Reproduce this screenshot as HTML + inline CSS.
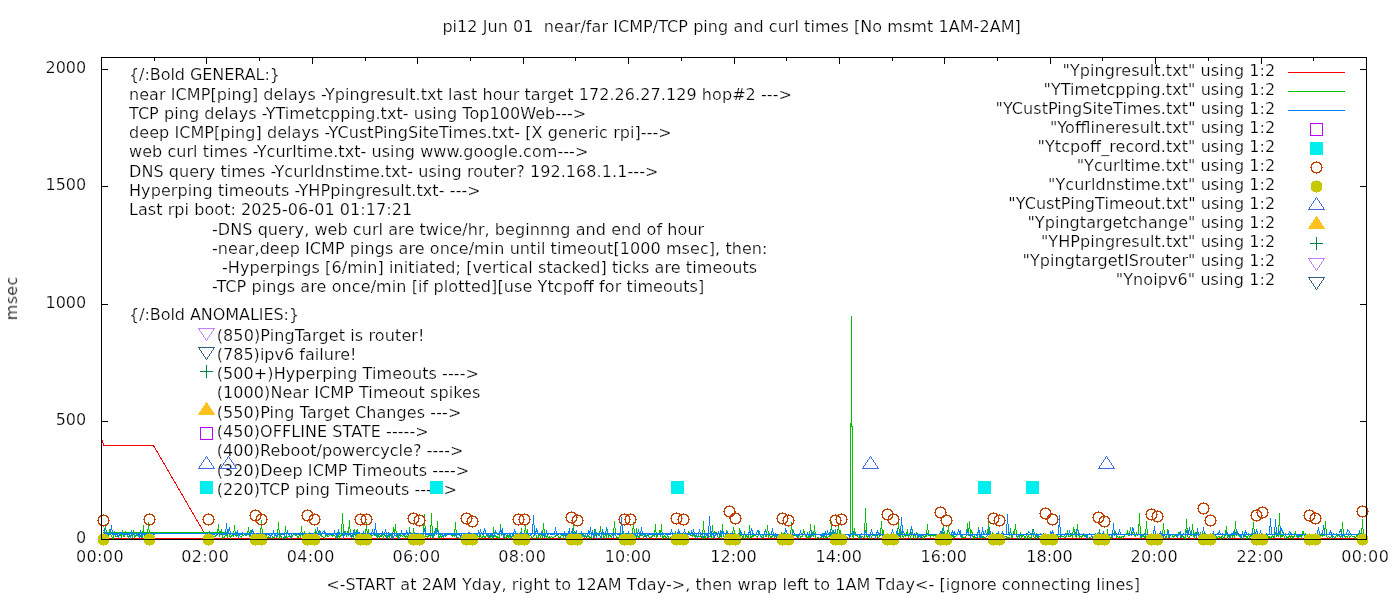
<!DOCTYPE html>
<html lang="en"><head><meta charset="utf-8"><title>pi12 Jun 01 near/far ICMP/TCP ping and curl times</title>
<style>
html,body{margin:0;padding:0;background:#fff;}
body{width:1400px;height:600px;overflow:hidden;}
svg{display:block;}
text{font-family:"DejaVu Sans","Liberation Sans",sans-serif;font-size:16px;fill:#000;stroke:#fff;stroke-width:0.24px;white-space:pre;}
.ce{shape-rendering:crispEdges;}
</style></head><body>
<svg width="1400" height="600" viewBox="0 0 1400 600">
<rect x="0" y="0" width="1400" height="600" fill="#fff"/>
<defs><path id="co" class="ce" d="M-3 -5h7v1h-7zM-4 -4h2v1h-2zM3 -4h2v1h-2zM-5 -3h2v1h-2zM4 -3h2v1h-2zM-5 -2h1v5h-1zM5 -2h1v5h-1zM-5 3h2v1h-2zM4 3h2v1h-2zM-4 4h2v1h-2zM3 4h2v1h-2zM-3 5h7v1h-7zM0 -6h1v1h-1zM0 6h1v1h-1zM-6 0h1v1h-1zM6 0h1v1h-1z"/><path id="cf" class="ce" d="M-3 -5h7v1h-7zM-4 -4h9v1h-9zM-5 -3h11v7h-11zM-4 4h9v1h-9zM-3 5h7v1h-7zM0 -6h1v1h-1zM0 6h1v1h-1z"/></defs>
<g class="ce" stroke="#000" stroke-width="1" fill="none">
<path d="M101.5 58V64M101.5 539V533"/>
<path d="M154.5 58V61M154.5 539V536"/>
<path d="M206.5 58V64M206.5 539V533"/>
<path d="M259.5 58V61M259.5 539V536"/>
<path d="M312.5 58V64M312.5 539V533"/>
<path d="M365.5 58V61M365.5 539V536"/>
<path d="M417.5 58V64M417.5 539V533"/>
<path d="M470.5 58V61M470.5 539V536"/>
<path d="M523.5 58V64M523.5 539V533"/>
<path d="M575.5 58V61M575.5 539V536"/>
<path d="M628.5 58V64M628.5 539V533"/>
<path d="M681.5 58V61M681.5 539V536"/>
<path d="M734.5 58V64M734.5 539V533"/>
<path d="M786.5 58V61M786.5 539V536"/>
<path d="M839.5 58V64M839.5 539V533"/>
<path d="M892.5 58V61M892.5 539V536"/>
<path d="M944.5 58V64M944.5 539V533"/>
<path d="M997.5 58V61M997.5 539V536"/>
<path d="M1050.5 58V64M1050.5 539V533"/>
<path d="M1102.5 58V61M1102.5 539V536"/>
<path d="M1155.5 58V64M1155.5 539V533"/>
<path d="M1208.5 58V61M1208.5 539V536"/>
<path d="M1261.5 58V64M1261.5 539V533"/>
<path d="M1313.5 58V61M1313.5 539V536"/>
<path d="M1366.5 58V64M1366.5 539V533"/>
<path d="M102 539.5H108M1366 539.5H1360"/>
<path d="M102 421.5H108M1366 421.5H1360"/>
<path d="M102 304.5H108M1366 304.5H1360"/>
<path d="M102 186.5H108M1366 186.5H1360"/>
<path d="M102 69.5H108M1366 69.5H1360"/>
</g>
<g style="opacity:0.999">
<text x="731.6" y="32" text-anchor="middle" textLength="578.38" lengthAdjust="spacing" xml:space="preserve">pi12 Jun 01  near/far ICMP/TCP ping and curl times [No msmt 1AM-2AM]</text>
<text x="733.1" y="590" text-anchor="middle" textLength="813.80" lengthAdjust="spacing" xml:space="preserve">&lt;-START at 2AM Yday, right to 12AM Tday-&gt;, then wrap left to 1AM Tday&lt;- [ignore connecting lines]</text>
<text transform="translate(17.1,298.5) rotate(-90)" text-anchor="middle" textLength="43.56" lengthAdjust="spacing" xml:space="preserve">msec</text>
<text x="86.2" y="543" text-anchor="end" xml:space="preserve">0</text>
<text x="86.2" y="425" text-anchor="end" xml:space="preserve">500</text>
<text x="86.2" y="308" text-anchor="end" xml:space="preserve">1000</text>
<text x="86.2" y="190" text-anchor="end" xml:space="preserve">1500</text>
<text x="86.2" y="73" text-anchor="end" xml:space="preserve">2000</text>
<text x="99.75" y="562" text-anchor="middle" textLength="47.71" lengthAdjust="spacing" xml:space="preserve">00:00</text>
<text x="205.0" y="562" text-anchor="middle" textLength="47.71" lengthAdjust="spacing" xml:space="preserve">02:00</text>
<text x="310.5" y="562" text-anchor="middle" textLength="47.71" lengthAdjust="spacing" xml:space="preserve">04:00</text>
<text x="416.25" y="562" text-anchor="middle" textLength="47.71" lengthAdjust="spacing" xml:space="preserve">06:00</text>
<text x="522.0" y="562" text-anchor="middle" textLength="47.71" lengthAdjust="spacing" xml:space="preserve">08:00</text>
<text x="627.9" y="562" text-anchor="middle" textLength="46.51" lengthAdjust="spacing" xml:space="preserve">10:00</text>
<text x="733.5" y="562" text-anchor="middle" textLength="46.51" lengthAdjust="spacing" xml:space="preserve">12:00</text>
<text x="838.75" y="562" text-anchor="middle" textLength="46.51" lengthAdjust="spacing" xml:space="preserve">14:00</text>
<text x="943.75" y="562" text-anchor="middle" textLength="46.51" lengthAdjust="spacing" xml:space="preserve">16:00</text>
<text x="1049.4" y="562" text-anchor="middle" textLength="46.51" lengthAdjust="spacing" xml:space="preserve">18:00</text>
<text x="1154.1" y="562" text-anchor="middle" textLength="47.11" lengthAdjust="spacing" xml:space="preserve">20:00</text>
<text x="1260.0" y="562" text-anchor="middle" textLength="47.11" lengthAdjust="spacing" xml:space="preserve">22:00</text>
<text x="1365.0" y="562" text-anchor="middle" textLength="47.71" lengthAdjust="spacing" xml:space="preserve">00:00</text>
<text x="129" y="80" textLength="150.91" lengthAdjust="spacing" xml:space="preserve">{/:Bold GENERAL:}</text>
<text x="129" y="100" textLength="662.95" lengthAdjust="spacing" xml:space="preserve">near ICMP[ping] delays -Ypingresult.txt last hour target 172.26.27.129 hop#2 ---&gt;</text>
<text x="129" y="119" textLength="457.22" lengthAdjust="spacing" xml:space="preserve">TCP ping delays -YTimetcpping.txt- using Top100Web---&gt;</text>
<text x="129" y="138" textLength="542.78" lengthAdjust="spacing" xml:space="preserve">deep ICMP[ping] delays -YCustPingSiteTimes.txt- [X generic rpi]---&gt;</text>
<text x="129" y="157" textLength="459.36" lengthAdjust="spacing" xml:space="preserve">web curl times -Ycurltime.txt- using www.google.com---&gt;</text>
<text x="129" y="177" textLength="529.39" lengthAdjust="spacing" xml:space="preserve">DNS query times -Ycurldnstime.txt- using router? 192.168.1.1---&gt;</text>
<text x="129" y="196" textLength="351.77" lengthAdjust="spacing" xml:space="preserve">Hyperping timeouts -YHPpingresult.txt- ---&gt;</text>
<text x="129" y="215" textLength="283.09" lengthAdjust="spacing" xml:space="preserve">Last rpi boot: 2025-06-01 01:17:21</text>
<text x="212" y="235" textLength="492.16" lengthAdjust="spacing" xml:space="preserve">-DNS query, web curl are twice/hr, beginnng and end of hour</text>
<text x="212" y="254" textLength="555.44" lengthAdjust="spacing" xml:space="preserve">-near,deep ICMP pings are once/min until timeout[1000 msec], then:</text>
<text x="222" y="273" textLength="535.11" lengthAdjust="spacing" xml:space="preserve">-Hyperpings [6/min] initiated; [vertical stacked] ticks are timeouts</text>
<text x="212" y="292" textLength="492.20" lengthAdjust="spacing" xml:space="preserve">-TCP pings are once/min [if plotted][use Ytcpoff for timeouts]</text>
<text x="129" y="320" textLength="170.14" lengthAdjust="spacing" xml:space="preserve">{/:Bold ANOMALIES:}</text>
<text x="216.7" y="341" textLength="207.78" lengthAdjust="spacing" xml:space="preserve">(850)PingTarget is router!</text>
<text x="216.7" y="360" textLength="139.81" lengthAdjust="spacing" xml:space="preserve">(785)ipv6 failure!</text>
<text x="216.7" y="379" textLength="262.28" lengthAdjust="spacing" xml:space="preserve">(500+)Hyperping Timeouts ----&gt;</text>
<text x="216.7" y="398" textLength="263.67" lengthAdjust="spacing" xml:space="preserve">(1000)Near ICMP Timeout spikes</text>
<text x="216.7" y="418" textLength="244.64" lengthAdjust="spacing" xml:space="preserve">(550)Ping Target Changes ---&gt;</text>
<text x="216.7" y="437" textLength="211.95" lengthAdjust="spacing" xml:space="preserve">(450)OFFLINE STATE -----&gt;</text>
<text x="216.7" y="456" textLength="246.70" lengthAdjust="spacing" xml:space="preserve">(400)Reboot/powercycle? ----&gt;</text>
<text x="216.7" y="476" textLength="252.48" lengthAdjust="spacing" xml:space="preserve">(320)Deep ICMP Timeouts ----&gt;</text>
<text x="216.7" y="495" textLength="240.31" lengthAdjust="spacing" xml:space="preserve">(220)TCP ping Timeouts -----&gt;</text>
<text x="1275.2" y="76" text-anchor="end" textLength="212.61" lengthAdjust="spacing" xml:space="preserve">"Ypingresult.txt" using 1:2</text>
<text x="1275.2" y="95" text-anchor="end" textLength="231.72" lengthAdjust="spacing" xml:space="preserve">"YTimetcpping.txt" using 1:2</text>
<text x="1275.2" y="114" text-anchor="end" textLength="279.73" lengthAdjust="spacing" xml:space="preserve">"YCustPingSiteTimes.txt" using 1:2</text>
<text x="1275.2" y="133" text-anchor="end" textLength="225.26" lengthAdjust="spacing" xml:space="preserve">"Yofflineresult.txt" using 1:2</text>
<text x="1275.2" y="152" text-anchor="end" textLength="237.59" lengthAdjust="spacing" xml:space="preserve">"Ytcpoff_record.txt" using 1:2</text>
<text x="1275.2" y="171" text-anchor="end" textLength="198.54" lengthAdjust="spacing" xml:space="preserve">"Ycurltime.txt" using 1:2</text>
<text x="1275.2" y="190" text-anchor="end" textLength="227.18" lengthAdjust="spacing" xml:space="preserve">"Ycurldnstime.txt" using 1:2</text>
<text x="1275.2" y="209" text-anchor="end" textLength="266.89" lengthAdjust="spacing" xml:space="preserve">"YCustPingTimeout.txt" using 1:2</text>
<text x="1275.2" y="228" text-anchor="end" textLength="247.76" lengthAdjust="spacing" xml:space="preserve">"Ypingtargetchange" using 1:2</text>
<text x="1275.2" y="247" text-anchor="end" textLength="234.28" lengthAdjust="spacing" xml:space="preserve">"YHPpingresult.txt" using 1:2</text>
<text x="1275.2" y="266" text-anchor="end" textLength="252.61" lengthAdjust="spacing" xml:space="preserve">"YpingtargetISrouter" using 1:2</text>
<text x="1275.2" y="285" text-anchor="end" textLength="159.51" lengthAdjust="spacing" xml:space="preserve">"Ynoipv6" using 1:2</text>
</g>
<path class="ce" d="M102.5 440.5L103.5 445.5L153.5 445.5L207.5 538.5" fill="none" stroke="#ff0000" stroke-width="1"/>
<path class="ce" d="M102.5 538.5L1365.5 538.5" fill="none" stroke="#ff0000" stroke-width="1"/>
<path class="ce" d="M102.5 532.5L227.5 532.5" fill="none" stroke="#00c000" stroke-width="1"/>
<path class="ce" d="M103.5 534.5L104.5 536.5L105.5 524.5L106.5 535.5L107.5 538.5L108.5 538.5L109.5 529.5L110.5 534.5L111.5 535.5L112.5 538.5L113.5 538.5L114.5 531.5L115.5 536.5L116.5 536.5L117.5 536.5L118.5 536.5L119.5 534.5L120.5 534.5L121.5 537.5L122.5 530.5L123.5 536.5L124.5 536.5L125.5 532.5L126.5 534.5L127.5 534.5L128.5 538.5L129.5 535.5L130.5 538.5L131.5 534.5L132.5 537.5L133.5 530.5L134.5 537.5L135.5 536.5L136.5 535.5L137.5 535.5L138.5 536.5L139.5 537.5L140.5 535.5L141.5 534.5L142.5 536.5L143.5 525.5L144.5 537.5L145.5 535.5L146.5 533.5L147.5 535.5L148.5 522.5L149.5 536.5L150.5 536.5L151.5 534.5L152.5 537.5L153.5 534.5L154.5 537.5" fill="none" stroke="#00c000" stroke-width="1"/>
<path class="ce" d="M208.5 537.5L209.5 536.5L210.5 534.5L211.5 534.5L212.5 537.5L213.5 537.5L214.5 536.5L215.5 536.5L216.5 534.5L217.5 534.5L218.5 524.5L219.5 536.5L220.5 532.5L221.5 530.5L222.5 537.5L223.5 538.5L224.5 536.5L225.5 535.5L226.5 534.5L227.5 537.5L228.5 531.5L229.5 535.5L230.5 537.5L231.5 535.5L232.5 535.5L233.5 536.5L234.5 525.5L235.5 535.5L236.5 536.5L237.5 534.5L238.5 536.5L239.5 535.5L240.5 536.5L241.5 537.5L242.5 534.5L243.5 535.5L244.5 534.5L245.5 534.5L246.5 535.5L247.5 534.5L248.5 527.5L249.5 536.5L250.5 530.5L251.5 538.5L252.5 537.5L253.5 535.5L254.5 537.5L255.5 535.5L256.5 535.5L257.5 536.5L258.5 538.5L259.5 536.5L260.5 535.5L261.5 520.5L262.5 536.5L263.5 536.5L264.5 534.5L265.5 534.5L266.5 536.5L267.5 537.5L268.5 536.5L269.5 538.5L270.5 536.5L271.5 535.5L272.5 536.5L273.5 538.5L274.5 536.5L275.5 534.5L276.5 536.5L277.5 536.5L278.5 522.5L279.5 537.5L280.5 535.5L281.5 537.5L282.5 538.5L283.5 537.5L284.5 537.5L285.5 526.5L286.5 537.5L287.5 537.5L288.5 536.5L289.5 536.5L290.5 536.5L291.5 537.5L292.5 535.5L293.5 534.5L294.5 534.5L295.5 535.5L296.5 534.5L297.5 537.5L298.5 537.5L299.5 534.5L300.5 537.5L301.5 526.5L302.5 536.5L303.5 537.5L304.5 532.5L305.5 535.5L306.5 534.5L307.5 536.5L308.5 536.5L309.5 533.5L310.5 538.5L311.5 536.5L312.5 537.5L313.5 537.5L314.5 534.5L315.5 529.5L316.5 536.5L317.5 537.5L318.5 536.5L319.5 530.5L320.5 534.5L321.5 536.5L322.5 536.5L323.5 537.5L324.5 538.5L325.5 535.5L326.5 534.5L327.5 536.5L328.5 536.5L329.5 535.5L330.5 534.5L331.5 535.5L332.5 536.5L333.5 534.5L334.5 535.5L335.5 536.5L336.5 538.5L337.5 532.5L338.5 535.5L339.5 537.5L340.5 535.5L341.5 535.5L342.5 513.5L343.5 534.5L344.5 535.5L345.5 531.5L346.5 535.5L347.5 532.5L348.5 534.5L349.5 520.5L350.5 536.5L351.5 536.5L352.5 535.5L353.5 538.5L354.5 529.5L355.5 537.5L356.5 537.5L357.5 529.5L358.5 536.5L359.5 535.5L360.5 537.5L361.5 536.5L362.5 535.5L363.5 538.5L364.5 538.5L365.5 535.5L366.5 522.5L367.5 538.5L368.5 529.5L369.5 536.5L370.5 534.5L371.5 536.5L372.5 535.5L373.5 534.5L374.5 535.5L375.5 535.5L376.5 531.5L377.5 537.5L378.5 535.5L379.5 537.5L380.5 536.5L381.5 536.5L382.5 534.5L383.5 537.5L384.5 534.5L385.5 535.5L386.5 537.5L387.5 536.5L388.5 535.5L389.5 537.5L390.5 534.5L391.5 533.5L392.5 537.5L393.5 527.5L394.5 534.5L395.5 524.5L396.5 536.5L397.5 537.5L398.5 535.5L399.5 538.5L400.5 535.5L401.5 535.5L402.5 536.5L403.5 535.5L404.5 535.5L405.5 537.5L406.5 535.5L407.5 536.5L408.5 538.5L409.5 527.5L410.5 536.5L411.5 537.5L412.5 538.5L413.5 528.5L414.5 535.5L415.5 537.5L416.5 536.5L417.5 536.5L418.5 535.5L419.5 534.5L420.5 534.5L421.5 535.5L422.5 537.5L423.5 534.5L424.5 514.5L425.5 536.5L426.5 536.5L427.5 537.5L428.5 535.5L429.5 534.5L430.5 537.5L431.5 513.5L432.5 538.5L433.5 536.5L434.5 534.5L435.5 531.5L436.5 534.5L437.5 521.5L438.5 538.5L439.5 537.5L440.5 535.5L441.5 537.5L442.5 536.5L443.5 536.5L444.5 534.5L445.5 536.5L446.5 535.5L447.5 534.5L448.5 534.5L449.5 534.5L450.5 534.5L451.5 534.5L452.5 536.5L453.5 535.5L454.5 536.5L455.5 522.5L456.5 536.5L457.5 537.5L458.5 537.5L459.5 538.5L460.5 538.5L461.5 535.5L462.5 538.5L463.5 535.5L464.5 538.5L465.5 537.5L466.5 537.5L467.5 535.5L468.5 537.5L469.5 537.5L470.5 537.5L471.5 534.5L472.5 537.5L473.5 534.5L474.5 536.5L475.5 536.5L476.5 538.5L477.5 535.5L478.5 536.5L479.5 537.5L480.5 535.5L481.5 538.5L482.5 536.5L483.5 535.5L484.5 537.5L485.5 537.5L486.5 534.5L487.5 535.5L488.5 537.5L489.5 537.5L490.5 538.5L491.5 534.5L492.5 538.5L493.5 527.5L494.5 536.5L495.5 535.5L496.5 537.5L497.5 536.5L498.5 538.5L499.5 537.5L500.5 524.5L501.5 534.5L502.5 532.5L503.5 536.5L504.5 536.5L505.5 538.5L506.5 536.5L507.5 534.5L508.5 538.5L509.5 535.5L510.5 536.5L511.5 538.5L512.5 535.5L513.5 535.5L514.5 536.5L515.5 537.5L516.5 536.5L517.5 537.5L518.5 535.5L519.5 534.5L520.5 535.5L521.5 528.5L522.5 538.5L523.5 535.5L524.5 536.5L525.5 524.5L526.5 537.5L527.5 529.5L528.5 536.5L529.5 535.5L530.5 534.5L531.5 537.5L532.5 538.5L533.5 535.5L534.5 535.5L535.5 532.5L536.5 537.5L537.5 538.5L538.5 536.5L539.5 534.5L540.5 537.5L541.5 534.5L542.5 536.5L543.5 523.5L544.5 534.5L545.5 535.5L546.5 537.5L547.5 535.5L548.5 538.5L549.5 536.5L550.5 537.5L551.5 536.5L552.5 537.5L553.5 537.5L554.5 536.5L555.5 536.5L556.5 534.5L557.5 534.5L558.5 537.5L559.5 537.5L560.5 537.5L561.5 534.5L562.5 533.5L563.5 537.5L564.5 534.5L565.5 537.5L566.5 535.5L567.5 535.5L568.5 538.5L569.5 536.5L570.5 536.5L571.5 537.5L572.5 537.5L573.5 523.5L574.5 538.5L575.5 537.5L576.5 535.5L577.5 536.5L578.5 535.5L579.5 535.5L580.5 534.5L581.5 534.5L582.5 536.5L583.5 534.5L584.5 536.5L585.5 534.5L586.5 538.5L587.5 534.5L588.5 535.5L589.5 537.5L590.5 538.5L591.5 536.5L592.5 530.5L593.5 536.5L594.5 537.5L595.5 529.5L596.5 534.5L597.5 534.5L598.5 535.5L599.5 535.5L600.5 526.5L601.5 537.5L602.5 532.5L603.5 537.5L604.5 538.5L605.5 534.5L606.5 536.5L607.5 529.5L608.5 537.5L609.5 534.5L610.5 536.5L611.5 537.5L612.5 534.5L613.5 534.5L614.5 521.5L615.5 534.5L616.5 537.5L617.5 537.5L618.5 538.5L619.5 535.5L620.5 534.5L621.5 535.5L622.5 535.5L623.5 532.5L624.5 537.5L625.5 537.5L626.5 537.5L627.5 535.5L628.5 535.5L629.5 535.5L630.5 537.5L631.5 535.5L632.5 534.5L633.5 522.5L634.5 534.5L635.5 537.5L636.5 528.5L637.5 535.5L638.5 537.5L639.5 537.5L640.5 531.5L641.5 535.5L642.5 534.5L643.5 537.5L644.5 535.5L645.5 535.5L646.5 536.5L647.5 534.5L648.5 536.5L649.5 537.5L650.5 537.5L651.5 537.5L652.5 535.5L653.5 535.5L654.5 536.5L655.5 524.5L656.5 538.5L657.5 535.5L658.5 534.5L659.5 531.5L660.5 536.5L661.5 524.5L662.5 538.5L663.5 536.5L664.5 535.5L665.5 537.5L666.5 538.5L667.5 535.5L668.5 537.5L669.5 538.5L670.5 537.5L671.5 537.5L672.5 534.5L673.5 538.5L674.5 536.5L675.5 531.5L676.5 535.5L677.5 537.5L678.5 532.5L679.5 534.5L680.5 536.5L681.5 533.5L682.5 534.5L683.5 535.5L684.5 537.5L685.5 537.5L686.5 534.5L687.5 537.5L688.5 531.5L689.5 532.5L690.5 535.5L691.5 535.5L692.5 536.5L693.5 534.5L694.5 535.5L695.5 537.5L696.5 536.5L697.5 537.5L698.5 536.5L699.5 536.5L700.5 535.5L701.5 537.5L702.5 538.5L703.5 521.5L704.5 538.5L705.5 537.5L706.5 534.5L707.5 537.5L708.5 537.5L709.5 536.5L710.5 535.5L711.5 538.5L712.5 525.5L713.5 537.5L714.5 531.5L715.5 532.5L716.5 532.5L717.5 536.5L718.5 537.5L719.5 537.5L720.5 535.5L721.5 537.5L722.5 524.5L723.5 536.5L724.5 537.5L725.5 537.5L726.5 530.5L727.5 536.5L728.5 534.5L729.5 535.5L730.5 537.5L731.5 535.5L732.5 534.5L733.5 527.5L734.5 531.5L735.5 537.5L736.5 537.5L737.5 536.5L738.5 537.5L739.5 528.5L740.5 536.5L741.5 535.5L742.5 536.5L743.5 538.5L744.5 531.5L745.5 538.5L746.5 535.5L747.5 537.5L748.5 538.5L749.5 525.5L750.5 537.5L751.5 537.5L752.5 535.5L753.5 536.5L754.5 534.5L755.5 535.5L756.5 536.5L757.5 537.5L758.5 534.5L759.5 532.5L760.5 536.5L761.5 536.5L762.5 537.5L763.5 537.5L764.5 531.5L765.5 536.5L766.5 536.5L767.5 525.5L768.5 536.5L769.5 534.5L770.5 537.5L771.5 537.5L772.5 535.5L773.5 534.5L774.5 537.5L775.5 536.5L776.5 536.5L777.5 535.5L778.5 537.5L779.5 537.5L780.5 536.5L781.5 533.5L782.5 535.5L783.5 536.5L784.5 536.5L785.5 534.5L786.5 538.5L787.5 536.5L788.5 536.5L789.5 537.5L790.5 537.5L791.5 522.5L792.5 534.5L793.5 536.5L794.5 535.5L795.5 535.5L796.5 536.5L797.5 537.5L798.5 538.5L799.5 534.5L800.5 537.5L801.5 536.5L802.5 536.5L803.5 530.5L804.5 532.5L805.5 535.5L806.5 537.5L807.5 538.5L808.5 536.5L809.5 537.5L810.5 524.5L811.5 536.5L812.5 535.5L813.5 536.5L814.5 525.5L815.5 537.5L816.5 538.5L817.5 537.5L818.5 537.5L819.5 538.5L820.5 537.5L821.5 537.5L822.5 536.5L823.5 533.5L824.5 534.5L825.5 538.5L826.5 536.5L827.5 537.5L828.5 536.5L829.5 535.5L830.5 538.5L831.5 521.5L832.5 537.5L833.5 534.5L834.5 536.5L835.5 535.5L836.5 538.5L837.5 534.5L838.5 524.5L839.5 534.5L840.5 531.5L841.5 535.5L842.5 535.5L843.5 535.5L844.5 535.5L845.5 538.5L846.5 536.5L847.5 537.5L848.5 538.5L849.5 537.5L850.5 536.5L851.5 316.5L852.5 535.5L853.5 537.5L854.5 528.5L855.5 535.5L856.5 535.5L857.5 535.5L858.5 538.5L859.5 536.5L860.5 538.5L861.5 536.5L862.5 536.5L863.5 537.5L864.5 537.5L865.5 508.5L866.5 536.5L867.5 537.5L868.5 535.5L869.5 537.5L870.5 534.5L871.5 537.5L872.5 534.5L873.5 535.5L874.5 535.5L875.5 535.5L876.5 534.5L877.5 536.5L878.5 538.5L879.5 535.5L880.5 535.5L881.5 521.5L882.5 535.5L883.5 530.5L884.5 536.5L885.5 535.5L886.5 537.5L887.5 534.5L888.5 537.5L889.5 534.5L890.5 534.5L891.5 534.5L892.5 537.5L893.5 535.5L894.5 534.5L895.5 536.5L896.5 538.5L897.5 535.5L898.5 521.5L899.5 536.5L900.5 537.5L901.5 531.5L902.5 535.5L903.5 537.5L904.5 534.5L905.5 536.5L906.5 535.5L907.5 529.5L908.5 537.5L909.5 534.5L910.5 537.5L911.5 534.5L912.5 529.5L913.5 537.5L914.5 534.5L915.5 537.5L916.5 532.5L917.5 537.5L918.5 537.5L919.5 535.5L920.5 537.5L921.5 536.5L922.5 538.5L923.5 535.5L924.5 537.5L925.5 535.5L926.5 536.5L927.5 524.5L928.5 535.5L929.5 534.5L930.5 536.5L931.5 534.5L932.5 535.5L933.5 536.5L934.5 534.5L935.5 534.5L936.5 536.5L937.5 536.5L938.5 535.5L939.5 538.5L940.5 537.5L941.5 534.5L942.5 535.5L943.5 524.5L944.5 537.5L945.5 537.5L946.5 537.5L947.5 534.5L948.5 525.5L949.5 538.5L950.5 536.5L951.5 535.5L952.5 534.5L953.5 538.5L954.5 536.5L955.5 536.5L956.5 535.5L957.5 534.5L958.5 534.5L959.5 534.5L960.5 535.5L961.5 538.5L962.5 536.5L963.5 537.5L964.5 537.5L965.5 537.5L966.5 534.5L967.5 523.5L968.5 535.5L969.5 521.5L970.5 535.5L971.5 530.5L972.5 534.5L973.5 538.5L974.5 536.5L975.5 538.5L976.5 537.5L977.5 537.5L978.5 527.5L979.5 537.5L980.5 537.5L981.5 538.5L982.5 536.5L983.5 536.5L984.5 538.5L985.5 537.5L986.5 536.5L987.5 535.5L988.5 522.5L989.5 538.5L990.5 534.5L991.5 535.5L992.5 533.5L993.5 537.5L994.5 535.5L995.5 538.5L996.5 538.5L997.5 538.5L998.5 537.5L999.5 535.5L1000.5 534.5L1001.5 536.5L1002.5 536.5L1003.5 535.5L1004.5 536.5L1005.5 536.5L1006.5 536.5L1007.5 538.5L1008.5 538.5L1009.5 536.5L1010.5 528.5L1011.5 537.5L1012.5 537.5L1013.5 531.5L1014.5 534.5L1015.5 524.5L1016.5 535.5L1017.5 537.5L1018.5 535.5L1019.5 536.5L1020.5 533.5L1021.5 537.5L1022.5 535.5L1023.5 534.5L1024.5 537.5L1025.5 538.5L1026.5 534.5L1027.5 537.5L1028.5 535.5L1029.5 538.5L1030.5 538.5L1031.5 536.5L1032.5 529.5L1033.5 535.5L1034.5 538.5L1035.5 536.5L1036.5 534.5L1037.5 538.5L1038.5 536.5L1039.5 536.5L1040.5 536.5L1041.5 537.5L1042.5 538.5L1043.5 534.5L1044.5 536.5L1045.5 537.5L1046.5 534.5L1047.5 534.5L1048.5 536.5L1049.5 534.5L1050.5 534.5L1051.5 538.5L1052.5 536.5L1053.5 534.5L1054.5 535.5L1055.5 535.5L1056.5 535.5L1057.5 535.5L1058.5 537.5L1059.5 536.5L1060.5 536.5L1061.5 536.5L1062.5 536.5L1063.5 536.5L1064.5 537.5L1065.5 537.5L1066.5 535.5L1067.5 530.5L1068.5 536.5L1069.5 536.5L1070.5 536.5L1071.5 534.5L1072.5 536.5L1073.5 528.5L1074.5 530.5L1075.5 536.5L1076.5 537.5L1077.5 524.5L1078.5 534.5L1079.5 537.5L1080.5 536.5L1081.5 537.5L1082.5 535.5L1083.5 534.5L1084.5 536.5L1085.5 535.5L1086.5 534.5L1087.5 537.5L1088.5 538.5L1089.5 537.5L1090.5 537.5L1091.5 536.5L1092.5 537.5L1093.5 536.5L1094.5 537.5L1095.5 534.5L1096.5 536.5L1097.5 536.5L1098.5 534.5L1099.5 529.5L1100.5 536.5L1101.5 537.5L1102.5 536.5L1103.5 534.5L1104.5 536.5L1105.5 537.5L1106.5 538.5L1107.5 529.5L1108.5 538.5L1109.5 537.5L1110.5 537.5L1111.5 538.5L1112.5 531.5L1113.5 534.5L1114.5 534.5L1115.5 531.5L1116.5 537.5L1117.5 536.5L1118.5 537.5L1119.5 536.5L1120.5 538.5L1121.5 536.5L1122.5 536.5L1123.5 537.5L1124.5 535.5L1125.5 534.5L1126.5 534.5L1127.5 531.5L1128.5 535.5L1129.5 535.5L1130.5 527.5L1131.5 533.5L1132.5 534.5L1133.5 530.5L1134.5 535.5L1135.5 536.5L1136.5 533.5L1137.5 535.5L1138.5 534.5L1139.5 513.5L1140.5 538.5L1141.5 537.5L1142.5 536.5L1143.5 535.5L1144.5 537.5L1145.5 537.5L1146.5 521.5L1147.5 535.5L1148.5 537.5L1149.5 537.5L1150.5 537.5L1151.5 537.5L1152.5 537.5L1153.5 535.5L1154.5 535.5L1155.5 538.5L1156.5 537.5L1157.5 536.5L1158.5 536.5L1159.5 534.5L1160.5 536.5L1161.5 535.5L1162.5 537.5L1163.5 523.5L1164.5 535.5L1165.5 536.5L1166.5 538.5L1167.5 529.5L1168.5 537.5L1169.5 534.5L1170.5 534.5L1171.5 534.5L1172.5 535.5L1173.5 537.5L1174.5 535.5L1175.5 535.5L1176.5 536.5L1177.5 537.5L1178.5 532.5L1179.5 532.5L1180.5 537.5L1181.5 536.5L1182.5 536.5L1183.5 536.5L1184.5 538.5L1185.5 538.5L1186.5 519.5L1187.5 536.5L1188.5 537.5L1189.5 537.5L1190.5 534.5L1191.5 535.5L1192.5 524.5L1193.5 534.5L1194.5 538.5L1195.5 532.5L1196.5 537.5L1197.5 532.5L1198.5 535.5L1199.5 535.5L1200.5 532.5L1201.5 538.5L1202.5 535.5L1203.5 536.5L1204.5 537.5L1205.5 534.5L1206.5 536.5L1207.5 536.5L1208.5 534.5L1209.5 534.5L1210.5 534.5L1211.5 536.5L1212.5 537.5L1213.5 535.5L1214.5 535.5L1215.5 534.5L1216.5 538.5L1217.5 537.5L1218.5 536.5L1219.5 536.5L1220.5 538.5L1221.5 537.5L1222.5 535.5L1223.5 538.5L1224.5 536.5L1225.5 534.5L1226.5 526.5L1227.5 537.5L1228.5 535.5L1229.5 534.5L1230.5 536.5L1231.5 534.5L1232.5 536.5L1233.5 534.5L1234.5 537.5L1235.5 521.5L1236.5 535.5L1237.5 534.5L1238.5 535.5L1239.5 535.5L1240.5 537.5L1241.5 537.5L1242.5 531.5L1243.5 537.5L1244.5 535.5L1245.5 534.5L1246.5 538.5L1247.5 538.5L1248.5 534.5L1249.5 537.5L1250.5 535.5L1251.5 535.5L1252.5 534.5L1253.5 522.5L1254.5 534.5L1255.5 534.5L1256.5 536.5L1257.5 532.5L1258.5 535.5L1259.5 535.5L1260.5 535.5L1261.5 537.5L1262.5 537.5L1263.5 535.5L1264.5 537.5L1265.5 534.5L1266.5 534.5L1267.5 534.5L1268.5 537.5L1269.5 536.5L1270.5 538.5L1271.5 536.5L1272.5 535.5L1273.5 537.5L1274.5 537.5L1275.5 532.5L1276.5 536.5L1277.5 535.5L1278.5 536.5L1279.5 513.5L1280.5 537.5L1281.5 535.5L1282.5 536.5L1283.5 534.5L1284.5 537.5L1285.5 534.5L1286.5 537.5L1287.5 538.5L1288.5 536.5L1289.5 535.5L1290.5 537.5L1291.5 535.5L1292.5 536.5L1293.5 538.5L1294.5 534.5L1295.5 532.5L1296.5 535.5L1297.5 537.5L1298.5 536.5L1299.5 536.5L1300.5 535.5L1301.5 538.5L1302.5 531.5L1303.5 531.5L1304.5 536.5L1305.5 534.5L1306.5 536.5L1307.5 537.5L1308.5 537.5L1309.5 537.5L1310.5 536.5L1311.5 536.5L1312.5 537.5L1313.5 535.5L1314.5 536.5L1315.5 536.5L1316.5 535.5L1317.5 537.5L1318.5 536.5L1319.5 534.5L1320.5 536.5L1321.5 534.5L1322.5 536.5L1323.5 535.5L1324.5 535.5L1325.5 521.5L1326.5 536.5L1327.5 537.5L1328.5 536.5L1329.5 537.5L1330.5 538.5L1331.5 535.5L1332.5 535.5L1333.5 536.5L1334.5 537.5L1335.5 538.5L1336.5 534.5L1337.5 536.5L1338.5 535.5L1339.5 535.5L1340.5 537.5L1341.5 536.5L1342.5 522.5L1343.5 535.5L1344.5 535.5L1345.5 537.5L1346.5 536.5L1347.5 537.5L1348.5 534.5L1349.5 537.5L1350.5 536.5L1351.5 535.5L1352.5 536.5L1353.5 536.5L1354.5 536.5L1355.5 538.5L1356.5 535.5L1357.5 534.5L1358.5 537.5L1359.5 532.5L1360.5 535.5L1361.5 537.5L1362.5 519.5L1363.5 537.5L1364.5 538.5L1365.5 535.5" fill="none" stroke="#00c000" stroke-width="1"/>
<path class="ce" d="M102.5 533.5L733.5 533.5L734.5 534.5L1365.5 534.5" fill="none" stroke="#0080ff" stroke-width="1"/>
<path class="ce" d="M103.5 531.5L104.5 529.5L105.5 534.5L106.5 532.5L107.5 534.5L108.5 534.5L109.5 534.5L110.5 533.5L111.5 525.5L112.5 534.5L113.5 534.5L114.5 534.5L115.5 534.5L116.5 534.5L117.5 534.5L118.5 536.5L119.5 534.5L120.5 532.5L121.5 532.5L122.5 534.5L123.5 534.5L124.5 534.5L125.5 534.5L126.5 534.5L127.5 534.5L128.5 534.5L129.5 534.5L130.5 538.5L131.5 531.5L132.5 533.5L133.5 534.5L134.5 534.5L135.5 535.5L136.5 534.5L137.5 534.5L138.5 534.5L139.5 537.5L140.5 530.5L141.5 536.5L142.5 534.5L143.5 534.5L144.5 534.5L145.5 534.5L146.5 533.5L147.5 534.5L148.5 535.5L149.5 534.5L150.5 534.5L151.5 534.5L152.5 534.5L153.5 534.5L154.5 534.5" fill="none" stroke="#0080ff" stroke-width="1"/>
<path class="ce" d="M208.5 536.5L209.5 532.5L210.5 534.5L211.5 534.5L212.5 534.5L213.5 534.5L214.5 534.5L215.5 533.5L216.5 534.5L217.5 534.5L218.5 533.5L219.5 534.5L220.5 533.5L221.5 534.5L222.5 534.5L223.5 534.5L224.5 534.5L225.5 534.5L226.5 523.5L227.5 533.5L228.5 531.5L229.5 527.5L230.5 534.5L231.5 533.5L232.5 534.5L233.5 534.5L234.5 534.5L235.5 534.5L236.5 534.5L237.5 530.5L238.5 537.5L239.5 534.5L240.5 534.5L241.5 534.5L242.5 532.5L243.5 533.5L244.5 534.5L245.5 535.5L246.5 534.5L247.5 533.5L248.5 534.5L249.5 534.5L250.5 535.5L251.5 530.5L252.5 529.5L253.5 533.5L254.5 534.5L255.5 534.5L256.5 534.5L257.5 533.5L258.5 534.5L259.5 534.5L260.5 534.5L261.5 534.5L262.5 534.5L263.5 534.5L264.5 534.5L265.5 534.5L266.5 534.5L267.5 534.5L268.5 534.5L269.5 534.5L270.5 536.5L271.5 534.5L272.5 534.5L273.5 531.5L274.5 534.5L275.5 534.5L276.5 536.5L277.5 534.5L278.5 534.5L279.5 535.5L280.5 535.5L281.5 534.5L282.5 534.5L283.5 534.5L284.5 534.5L285.5 537.5L286.5 534.5L287.5 531.5L288.5 534.5L289.5 534.5L290.5 537.5L291.5 534.5L292.5 533.5L293.5 534.5L294.5 533.5L295.5 534.5L296.5 533.5L297.5 534.5L298.5 534.5L299.5 534.5L300.5 533.5L301.5 534.5L302.5 534.5L303.5 534.5L304.5 535.5L305.5 534.5L306.5 534.5L307.5 534.5L308.5 533.5L309.5 534.5L310.5 534.5L311.5 537.5L312.5 536.5L313.5 534.5L314.5 534.5L315.5 534.5L316.5 534.5L317.5 527.5L318.5 534.5L319.5 534.5L320.5 532.5L321.5 534.5L322.5 532.5L323.5 531.5L324.5 530.5L325.5 534.5L326.5 534.5L327.5 534.5L328.5 534.5L329.5 534.5L330.5 534.5L331.5 534.5L332.5 534.5L333.5 534.5L334.5 531.5L335.5 534.5L336.5 533.5L337.5 537.5L338.5 529.5L339.5 534.5L340.5 533.5L341.5 533.5L342.5 534.5L343.5 537.5L344.5 532.5L345.5 534.5L346.5 534.5L347.5 534.5L348.5 535.5L349.5 533.5L350.5 532.5L351.5 537.5L352.5 536.5L353.5 531.5L354.5 534.5L355.5 534.5L356.5 530.5L357.5 534.5L358.5 532.5L359.5 532.5L360.5 534.5L361.5 534.5L362.5 534.5L363.5 532.5L364.5 534.5L365.5 534.5L366.5 534.5L367.5 534.5L368.5 534.5L369.5 534.5L370.5 534.5L371.5 534.5L372.5 529.5L373.5 534.5L374.5 534.5L375.5 523.5L376.5 536.5L377.5 533.5L378.5 533.5L379.5 534.5L380.5 535.5L381.5 534.5L382.5 532.5L383.5 534.5L384.5 534.5L385.5 529.5L386.5 534.5L387.5 537.5L388.5 533.5L389.5 535.5L390.5 534.5L391.5 537.5L392.5 534.5L393.5 537.5L394.5 534.5L395.5 535.5L396.5 534.5L397.5 534.5L398.5 537.5L399.5 534.5L400.5 534.5L401.5 531.5L402.5 534.5L403.5 534.5L404.5 534.5L405.5 534.5L406.5 531.5L407.5 533.5L408.5 535.5L409.5 530.5L410.5 536.5L411.5 537.5L412.5 534.5L413.5 535.5L414.5 536.5L415.5 534.5L416.5 534.5L417.5 536.5L418.5 534.5L419.5 534.5L420.5 534.5L421.5 533.5L422.5 534.5L423.5 535.5L424.5 529.5L425.5 531.5L426.5 534.5L427.5 534.5L428.5 534.5L429.5 534.5L430.5 534.5L431.5 534.5L432.5 536.5L433.5 534.5L434.5 534.5L435.5 528.5L436.5 533.5L437.5 529.5L438.5 533.5L439.5 534.5L440.5 535.5L441.5 534.5L442.5 534.5L443.5 536.5L444.5 534.5L445.5 534.5L446.5 534.5L447.5 534.5L448.5 534.5L449.5 534.5L450.5 534.5L451.5 534.5L452.5 534.5L453.5 534.5L454.5 534.5L455.5 534.5L456.5 536.5L457.5 533.5L458.5 534.5L459.5 534.5L460.5 536.5L461.5 534.5L462.5 537.5L463.5 534.5L464.5 534.5L465.5 534.5L466.5 534.5L467.5 534.5L468.5 532.5L469.5 532.5L470.5 534.5L471.5 535.5L472.5 536.5L473.5 534.5L474.5 534.5L475.5 534.5L476.5 534.5L477.5 534.5L478.5 531.5L479.5 534.5L480.5 530.5L481.5 533.5L482.5 534.5L483.5 534.5L484.5 528.5L485.5 532.5L486.5 534.5L487.5 534.5L488.5 534.5L489.5 536.5L490.5 534.5L491.5 534.5L492.5 534.5L493.5 536.5L494.5 534.5L495.5 531.5L496.5 533.5L497.5 534.5L498.5 534.5L499.5 533.5L500.5 528.5L501.5 534.5L502.5 528.5L503.5 536.5L504.5 534.5L505.5 534.5L506.5 533.5L507.5 534.5L508.5 535.5L509.5 534.5L510.5 534.5L511.5 537.5L512.5 534.5L513.5 534.5L514.5 529.5L515.5 533.5L516.5 533.5L517.5 534.5L518.5 534.5L519.5 534.5L520.5 532.5L521.5 533.5L522.5 534.5L523.5 534.5L524.5 534.5L525.5 534.5L526.5 534.5L527.5 534.5L528.5 534.5L529.5 537.5L530.5 534.5L531.5 534.5L532.5 533.5L533.5 515.5L534.5 534.5L535.5 534.5L536.5 529.5L537.5 531.5L538.5 534.5L539.5 534.5L540.5 534.5L541.5 532.5L542.5 534.5L543.5 534.5L544.5 536.5L545.5 534.5L546.5 531.5L547.5 534.5L548.5 534.5L549.5 533.5L550.5 534.5L551.5 534.5L552.5 534.5L553.5 534.5L554.5 534.5L555.5 527.5L556.5 534.5L557.5 534.5L558.5 534.5L559.5 533.5L560.5 534.5L561.5 534.5L562.5 534.5L563.5 534.5L564.5 532.5L565.5 536.5L566.5 534.5L567.5 534.5L568.5 533.5L569.5 528.5L570.5 536.5L571.5 534.5L572.5 528.5L573.5 534.5L574.5 534.5L575.5 534.5L576.5 530.5L577.5 536.5L578.5 534.5L579.5 534.5L580.5 534.5L581.5 532.5L582.5 534.5L583.5 536.5L584.5 535.5L585.5 536.5L586.5 537.5L587.5 534.5L588.5 531.5L589.5 534.5L590.5 527.5L591.5 535.5L592.5 532.5L593.5 537.5L594.5 529.5L595.5 534.5L596.5 537.5L597.5 533.5L598.5 534.5L599.5 534.5L600.5 537.5L601.5 534.5L602.5 529.5L603.5 534.5L604.5 534.5L605.5 534.5L606.5 527.5L607.5 534.5L608.5 534.5L609.5 534.5L610.5 533.5L611.5 534.5L612.5 534.5L613.5 536.5L614.5 533.5L615.5 534.5L616.5 533.5L617.5 534.5L618.5 534.5L619.5 534.5L620.5 534.5L621.5 517.5L622.5 532.5L623.5 538.5L624.5 534.5L625.5 534.5L626.5 534.5L627.5 536.5L628.5 532.5L629.5 534.5L630.5 534.5L631.5 534.5L632.5 534.5L633.5 534.5L634.5 534.5L635.5 534.5L636.5 536.5L637.5 534.5L638.5 529.5L639.5 534.5L640.5 535.5L641.5 527.5L642.5 534.5L643.5 534.5L644.5 533.5L645.5 535.5L646.5 537.5L647.5 534.5L648.5 534.5L649.5 534.5L650.5 534.5L651.5 534.5L652.5 534.5L653.5 534.5L654.5 534.5L655.5 534.5L656.5 534.5L657.5 534.5L658.5 534.5L659.5 534.5L660.5 535.5L661.5 534.5L662.5 534.5L663.5 534.5L664.5 533.5L665.5 534.5L666.5 534.5L667.5 534.5L668.5 534.5L669.5 534.5L670.5 534.5L671.5 529.5L672.5 534.5L673.5 534.5L674.5 533.5L675.5 534.5L676.5 536.5L677.5 534.5L678.5 530.5L679.5 532.5L680.5 534.5L681.5 534.5L682.5 534.5L683.5 534.5L684.5 529.5L685.5 534.5L686.5 533.5L687.5 534.5L688.5 534.5L689.5 534.5L690.5 534.5L691.5 531.5L692.5 534.5L693.5 529.5L694.5 534.5L695.5 535.5L696.5 534.5L697.5 537.5L698.5 534.5L699.5 529.5L700.5 534.5L701.5 533.5L702.5 536.5L703.5 537.5L704.5 534.5L705.5 534.5L706.5 535.5L707.5 534.5L708.5 536.5L709.5 516.5L710.5 534.5L711.5 532.5L712.5 534.5L713.5 533.5L714.5 537.5L715.5 534.5L716.5 534.5L717.5 534.5L718.5 532.5L719.5 534.5L720.5 531.5L721.5 534.5L722.5 530.5L723.5 534.5L724.5 533.5L725.5 534.5L726.5 534.5L727.5 532.5L728.5 534.5L729.5 534.5L730.5 535.5L731.5 534.5L732.5 534.5L733.5 534.5L734.5 534.5L735.5 534.5L736.5 537.5L737.5 534.5L738.5 534.5L739.5 534.5L740.5 530.5L741.5 534.5L742.5 534.5L743.5 534.5L744.5 534.5L745.5 534.5L746.5 534.5L747.5 534.5L748.5 534.5L749.5 530.5L750.5 534.5L751.5 528.5L752.5 532.5L753.5 534.5L754.5 534.5L755.5 534.5L756.5 534.5L757.5 530.5L758.5 530.5L759.5 534.5L760.5 534.5L761.5 537.5L762.5 534.5L763.5 534.5L764.5 534.5L765.5 529.5L766.5 534.5L767.5 534.5L768.5 534.5L769.5 534.5L770.5 534.5L771.5 533.5L772.5 528.5L773.5 535.5L774.5 536.5L775.5 534.5L776.5 536.5L777.5 534.5L778.5 534.5L779.5 537.5L780.5 534.5L781.5 534.5L782.5 534.5L783.5 533.5L784.5 536.5L785.5 528.5L786.5 531.5L787.5 534.5L788.5 534.5L789.5 535.5L790.5 533.5L791.5 534.5L792.5 534.5L793.5 531.5L794.5 534.5L795.5 534.5L796.5 534.5L797.5 536.5L798.5 534.5L799.5 534.5L800.5 531.5L801.5 534.5L802.5 534.5L803.5 534.5L804.5 533.5L805.5 534.5L806.5 535.5L807.5 533.5L808.5 535.5L809.5 534.5L810.5 537.5L811.5 530.5L812.5 534.5L813.5 534.5L814.5 533.5L815.5 534.5L816.5 534.5L817.5 534.5L818.5 534.5L819.5 534.5L820.5 535.5L821.5 536.5L822.5 534.5L823.5 536.5L824.5 534.5L825.5 532.5L826.5 534.5L827.5 531.5L828.5 534.5L829.5 534.5L830.5 530.5L831.5 533.5L832.5 534.5L833.5 531.5L834.5 534.5L835.5 529.5L836.5 536.5L837.5 537.5L838.5 536.5L839.5 538.5L840.5 534.5L841.5 534.5L842.5 534.5L843.5 534.5L844.5 534.5L845.5 534.5L846.5 534.5L847.5 534.5L848.5 534.5L849.5 536.5L850.5 534.5L851.5 534.5L852.5 532.5L853.5 531.5L854.5 534.5L855.5 534.5L856.5 534.5L857.5 534.5L858.5 534.5L859.5 534.5L860.5 537.5L861.5 533.5L862.5 534.5L863.5 534.5L864.5 534.5L865.5 530.5L866.5 534.5L867.5 534.5L868.5 534.5L869.5 536.5L870.5 534.5L871.5 529.5L872.5 534.5L873.5 534.5L874.5 534.5L875.5 537.5L876.5 534.5L877.5 530.5L878.5 534.5L879.5 533.5L880.5 534.5L881.5 534.5L882.5 534.5L883.5 536.5L884.5 534.5L885.5 534.5L886.5 534.5L887.5 534.5L888.5 534.5L889.5 534.5L890.5 534.5L891.5 534.5L892.5 529.5L893.5 534.5L894.5 534.5L895.5 534.5L896.5 533.5L897.5 529.5L898.5 536.5L899.5 534.5L900.5 534.5L901.5 517.5L902.5 532.5L903.5 531.5L904.5 534.5L905.5 534.5L906.5 534.5L907.5 535.5L908.5 534.5L909.5 534.5L910.5 532.5L911.5 526.5L912.5 533.5L913.5 534.5L914.5 534.5L915.5 535.5L916.5 534.5L917.5 533.5L918.5 537.5L919.5 534.5L920.5 534.5L921.5 536.5L922.5 534.5L923.5 534.5L924.5 534.5L925.5 534.5L926.5 534.5L927.5 533.5L928.5 534.5L929.5 534.5L930.5 534.5L931.5 534.5L932.5 534.5L933.5 534.5L934.5 534.5L935.5 534.5L936.5 534.5L937.5 534.5L938.5 534.5L939.5 534.5L940.5 532.5L941.5 534.5L942.5 528.5L943.5 534.5L944.5 534.5L945.5 534.5L946.5 534.5L947.5 534.5L948.5 534.5L949.5 536.5L950.5 534.5L951.5 534.5L952.5 530.5L953.5 534.5L954.5 532.5L955.5 534.5L956.5 534.5L957.5 534.5L958.5 529.5L959.5 533.5L960.5 530.5L961.5 537.5L962.5 534.5L963.5 534.5L964.5 534.5L965.5 534.5L966.5 533.5L967.5 530.5L968.5 534.5L969.5 534.5L970.5 537.5L971.5 534.5L972.5 535.5L973.5 534.5L974.5 534.5L975.5 534.5L976.5 534.5L977.5 537.5L978.5 528.5L979.5 532.5L980.5 537.5L981.5 537.5L982.5 527.5L983.5 534.5L984.5 534.5L985.5 531.5L986.5 534.5L987.5 535.5L988.5 534.5L989.5 527.5L990.5 534.5L991.5 534.5L992.5 534.5L993.5 534.5L994.5 534.5L995.5 534.5L996.5 533.5L997.5 534.5L998.5 532.5L999.5 534.5L1000.5 534.5L1001.5 534.5L1002.5 532.5L1003.5 534.5L1004.5 534.5L1005.5 534.5L1006.5 534.5L1007.5 514.5L1008.5 532.5L1009.5 534.5L1010.5 534.5L1011.5 534.5L1012.5 534.5L1013.5 534.5L1014.5 534.5L1015.5 534.5L1016.5 535.5L1017.5 534.5L1018.5 534.5L1019.5 537.5L1020.5 534.5L1021.5 534.5L1022.5 534.5L1023.5 534.5L1024.5 534.5L1025.5 534.5L1026.5 534.5L1027.5 534.5L1028.5 531.5L1029.5 532.5L1030.5 533.5L1031.5 534.5L1032.5 534.5L1033.5 529.5L1034.5 534.5L1035.5 534.5L1036.5 534.5L1037.5 536.5L1038.5 534.5L1039.5 534.5L1040.5 533.5L1041.5 534.5L1042.5 534.5L1043.5 534.5L1044.5 534.5L1045.5 533.5L1046.5 534.5L1047.5 535.5L1048.5 534.5L1049.5 538.5L1050.5 531.5L1051.5 534.5L1052.5 530.5L1053.5 534.5L1054.5 534.5L1055.5 534.5L1056.5 534.5L1057.5 534.5L1058.5 534.5L1059.5 515.5L1060.5 537.5L1061.5 534.5L1062.5 534.5L1063.5 534.5L1064.5 535.5L1065.5 533.5L1066.5 534.5L1067.5 533.5L1068.5 534.5L1069.5 531.5L1070.5 534.5L1071.5 534.5L1072.5 534.5L1073.5 534.5L1074.5 534.5L1075.5 534.5L1076.5 529.5L1077.5 530.5L1078.5 531.5L1079.5 535.5L1080.5 534.5L1081.5 534.5L1082.5 534.5L1083.5 533.5L1084.5 534.5L1085.5 534.5L1086.5 538.5L1087.5 534.5L1088.5 534.5L1089.5 533.5L1090.5 534.5L1091.5 534.5L1092.5 538.5L1093.5 536.5L1094.5 536.5L1095.5 537.5L1096.5 534.5L1097.5 533.5L1098.5 535.5L1099.5 532.5L1100.5 534.5L1101.5 536.5L1102.5 534.5L1103.5 532.5L1104.5 534.5L1105.5 534.5L1106.5 534.5L1107.5 534.5L1108.5 536.5L1109.5 534.5L1110.5 534.5L1111.5 534.5L1112.5 536.5L1113.5 523.5L1114.5 535.5L1115.5 534.5L1116.5 533.5L1117.5 534.5L1118.5 534.5L1119.5 529.5L1120.5 534.5L1121.5 534.5L1122.5 534.5L1123.5 534.5L1124.5 534.5L1125.5 534.5L1126.5 534.5L1127.5 534.5L1128.5 534.5L1129.5 533.5L1130.5 534.5L1131.5 535.5L1132.5 527.5L1133.5 528.5L1134.5 534.5L1135.5 534.5L1136.5 534.5L1137.5 534.5L1138.5 534.5L1139.5 534.5L1140.5 534.5L1141.5 536.5L1142.5 534.5L1143.5 534.5L1144.5 533.5L1145.5 534.5L1146.5 534.5L1147.5 534.5L1148.5 534.5L1149.5 537.5L1150.5 534.5L1151.5 534.5L1152.5 534.5L1153.5 534.5L1154.5 526.5L1155.5 534.5L1156.5 534.5L1157.5 535.5L1158.5 535.5L1159.5 534.5L1160.5 532.5L1161.5 534.5L1162.5 534.5L1163.5 536.5L1164.5 534.5L1165.5 534.5L1166.5 534.5L1167.5 534.5L1168.5 530.5L1169.5 536.5L1170.5 534.5L1171.5 534.5L1172.5 534.5L1173.5 534.5L1174.5 534.5L1175.5 534.5L1176.5 534.5L1177.5 536.5L1178.5 534.5L1179.5 534.5L1180.5 531.5L1181.5 537.5L1182.5 534.5L1183.5 533.5L1184.5 534.5L1185.5 534.5L1186.5 531.5L1187.5 533.5L1188.5 533.5L1189.5 527.5L1190.5 534.5L1191.5 534.5L1192.5 534.5L1193.5 534.5L1194.5 533.5L1195.5 534.5L1196.5 536.5L1197.5 528.5L1198.5 534.5L1199.5 536.5L1200.5 534.5L1201.5 534.5L1202.5 534.5L1203.5 527.5L1204.5 534.5L1205.5 537.5L1206.5 534.5L1207.5 534.5L1208.5 534.5L1209.5 534.5L1210.5 534.5L1211.5 534.5L1212.5 534.5L1213.5 532.5L1214.5 536.5L1215.5 534.5L1216.5 534.5L1217.5 533.5L1218.5 533.5L1219.5 531.5L1220.5 534.5L1221.5 534.5L1222.5 533.5L1223.5 534.5L1224.5 534.5L1225.5 534.5L1226.5 532.5L1227.5 534.5L1228.5 534.5L1229.5 537.5L1230.5 534.5L1231.5 533.5L1232.5 534.5L1233.5 532.5L1234.5 534.5L1235.5 534.5L1236.5 529.5L1237.5 533.5L1238.5 533.5L1239.5 534.5L1240.5 534.5L1241.5 537.5L1242.5 532.5L1243.5 536.5L1244.5 534.5L1245.5 530.5L1246.5 534.5L1247.5 534.5L1248.5 534.5L1249.5 534.5L1250.5 534.5L1251.5 534.5L1252.5 531.5L1253.5 534.5L1254.5 533.5L1255.5 534.5L1256.5 529.5L1257.5 533.5L1258.5 534.5L1259.5 534.5L1260.5 531.5L1261.5 534.5L1262.5 534.5L1263.5 534.5L1264.5 534.5L1265.5 534.5L1266.5 533.5L1267.5 534.5L1268.5 534.5L1269.5 534.5L1270.5 518.5L1271.5 534.5L1272.5 534.5L1273.5 534.5L1274.5 534.5L1275.5 519.5L1276.5 533.5L1277.5 534.5L1278.5 531.5L1279.5 534.5L1280.5 527.5L1281.5 529.5L1282.5 531.5L1283.5 533.5L1284.5 534.5L1285.5 534.5L1286.5 534.5L1287.5 534.5L1288.5 534.5L1289.5 531.5L1290.5 532.5L1291.5 534.5L1292.5 534.5L1293.5 534.5L1294.5 534.5L1295.5 534.5L1296.5 534.5L1297.5 534.5L1298.5 536.5L1299.5 534.5L1300.5 534.5L1301.5 534.5L1302.5 535.5L1303.5 534.5L1304.5 534.5L1305.5 534.5L1306.5 536.5L1307.5 534.5L1308.5 534.5L1309.5 533.5L1310.5 534.5L1311.5 534.5L1312.5 537.5L1313.5 536.5L1314.5 534.5L1315.5 534.5L1316.5 535.5L1317.5 532.5L1318.5 527.5L1319.5 534.5L1320.5 534.5L1321.5 534.5L1322.5 534.5L1323.5 525.5L1324.5 533.5L1325.5 534.5L1326.5 534.5L1327.5 534.5L1328.5 534.5L1329.5 534.5L1330.5 530.5L1331.5 534.5L1332.5 536.5L1333.5 533.5L1334.5 534.5L1335.5 534.5L1336.5 534.5L1337.5 534.5L1338.5 535.5L1339.5 533.5L1340.5 529.5L1341.5 534.5L1342.5 536.5L1343.5 534.5L1344.5 534.5L1345.5 534.5L1346.5 534.5L1347.5 529.5L1348.5 530.5L1349.5 531.5L1350.5 534.5L1351.5 534.5L1352.5 534.5L1353.5 534.5L1354.5 534.5L1355.5 534.5L1356.5 534.5L1357.5 534.5L1358.5 534.5L1359.5 531.5L1360.5 534.5L1361.5 534.5L1362.5 534.5L1363.5 534.5L1364.5 534.5L1365.5 535.5" fill="none" stroke="#0080ff" stroke-width="1"/>
<rect class="ce" x="200.5" y="427.5" width="12" height="12" fill="none" stroke="#c000ff" stroke-width="1"/>
<rect class="ce" x="200.0" y="481.0" width="13" height="13" fill="#00eeee"/>
<rect class="ce" x="430.0" y="481.0" width="13" height="13" fill="#00eeee"/>
<rect class="ce" x="671.0" y="481.0" width="13" height="13" fill="#00eeee"/>
<rect class="ce" x="978.0" y="481.0" width="13" height="13" fill="#00eeee"/>
<rect class="ce" x="1026.0" y="481.0" width="13" height="13" fill="#00eeee"/>
<use href="#co" x="103" y="520" fill="#c04000"/>
<use href="#co" x="149" y="519" fill="#c04000"/>
<use href="#co" x="208" y="519" fill="#c04000"/>
<use href="#co" x="255" y="515" fill="#c04000"/>
<use href="#co" x="261" y="519" fill="#c04000"/>
<use href="#co" x="307" y="515" fill="#c04000"/>
<use href="#co" x="314" y="519" fill="#c04000"/>
<use href="#co" x="360" y="519" fill="#c04000"/>
<use href="#co" x="366" y="519" fill="#c04000"/>
<use href="#co" x="413" y="518" fill="#c04000"/>
<use href="#co" x="419" y="520" fill="#c04000"/>
<use href="#co" x="466" y="518" fill="#c04000"/>
<use href="#co" x="472" y="521" fill="#c04000"/>
<use href="#co" x="518" y="519" fill="#c04000"/>
<use href="#co" x="524" y="519" fill="#c04000"/>
<use href="#co" x="571" y="517" fill="#c04000"/>
<use href="#co" x="577" y="520" fill="#c04000"/>
<use href="#co" x="624" y="519" fill="#c04000"/>
<use href="#co" x="630" y="519" fill="#c04000"/>
<use href="#co" x="676" y="518" fill="#c04000"/>
<use href="#co" x="683" y="519" fill="#c04000"/>
<use href="#co" x="729" y="511" fill="#c04000"/>
<use href="#co" x="735" y="518" fill="#c04000"/>
<use href="#co" x="782" y="518" fill="#c04000"/>
<use href="#co" x="788" y="520" fill="#c04000"/>
<use href="#co" x="835" y="520" fill="#c04000"/>
<use href="#co" x="841" y="519" fill="#c04000"/>
<use href="#co" x="887" y="514" fill="#c04000"/>
<use href="#co" x="893" y="519" fill="#c04000"/>
<use href="#co" x="940" y="512" fill="#c04000"/>
<use href="#co" x="946" y="520" fill="#c04000"/>
<use href="#co" x="993" y="518" fill="#c04000"/>
<use href="#co" x="999" y="520" fill="#c04000"/>
<use href="#co" x="1045" y="513" fill="#c04000"/>
<use href="#co" x="1052" y="519" fill="#c04000"/>
<use href="#co" x="1098" y="517" fill="#c04000"/>
<use href="#co" x="1104" y="521" fill="#c04000"/>
<use href="#co" x="1151" y="514" fill="#c04000"/>
<use href="#co" x="1157" y="516" fill="#c04000"/>
<use href="#co" x="1203" y="508" fill="#c04000"/>
<use href="#co" x="1210" y="520" fill="#c04000"/>
<use href="#co" x="1256" y="515" fill="#c04000"/>
<use href="#co" x="1262" y="512" fill="#c04000"/>
<use href="#co" x="1309" y="515" fill="#c04000"/>
<use href="#co" x="1315" y="518" fill="#c04000"/>
<use href="#co" x="1362" y="511" fill="#c04000"/>
<use href="#cf" x="103" y="539" fill="#c8c800"/>
<use href="#cf" x="149" y="539" fill="#c8c800"/>
<use href="#cf" x="208" y="539" fill="#c8c800"/>
<use href="#cf" x="255" y="539" fill="#c8c800"/>
<use href="#cf" x="261" y="539" fill="#c8c800"/>
<use href="#cf" x="307" y="539" fill="#c8c800"/>
<use href="#cf" x="314" y="539" fill="#c8c800"/>
<use href="#cf" x="360" y="539" fill="#c8c800"/>
<use href="#cf" x="366" y="539" fill="#c8c800"/>
<use href="#cf" x="413" y="539" fill="#c8c800"/>
<use href="#cf" x="419" y="539" fill="#c8c800"/>
<use href="#cf" x="466" y="539" fill="#c8c800"/>
<use href="#cf" x="472" y="539" fill="#c8c800"/>
<use href="#cf" x="518" y="539" fill="#c8c800"/>
<use href="#cf" x="524" y="539" fill="#c8c800"/>
<use href="#cf" x="571" y="539" fill="#c8c800"/>
<use href="#cf" x="577" y="539" fill="#c8c800"/>
<use href="#cf" x="624" y="539" fill="#c8c800"/>
<use href="#cf" x="630" y="539" fill="#c8c800"/>
<use href="#cf" x="676" y="539" fill="#c8c800"/>
<use href="#cf" x="683" y="539" fill="#c8c800"/>
<use href="#cf" x="729" y="539" fill="#c8c800"/>
<use href="#cf" x="735" y="539" fill="#c8c800"/>
<use href="#cf" x="782" y="539" fill="#c8c800"/>
<use href="#cf" x="788" y="539" fill="#c8c800"/>
<use href="#cf" x="835" y="539" fill="#c8c800"/>
<use href="#cf" x="841" y="539" fill="#c8c800"/>
<use href="#cf" x="887" y="539" fill="#c8c800"/>
<use href="#cf" x="893" y="539" fill="#c8c800"/>
<use href="#cf" x="940" y="539" fill="#c8c800"/>
<use href="#cf" x="946" y="539" fill="#c8c800"/>
<use href="#cf" x="993" y="539" fill="#c8c800"/>
<use href="#cf" x="999" y="539" fill="#c8c800"/>
<use href="#cf" x="1045" y="539" fill="#c8c800"/>
<use href="#cf" x="1052" y="539" fill="#c8c800"/>
<use href="#cf" x="1098" y="539" fill="#c8c800"/>
<use href="#cf" x="1104" y="539" fill="#c8c800"/>
<use href="#cf" x="1151" y="539" fill="#c8c800"/>
<use href="#cf" x="1157" y="539" fill="#c8c800"/>
<use href="#cf" x="1203" y="539" fill="#c8c800"/>
<use href="#cf" x="1210" y="539" fill="#c8c800"/>
<use href="#cf" x="1256" y="539" fill="#c8c800"/>
<use href="#cf" x="1262" y="539" fill="#c8c800"/>
<use href="#cf" x="1309" y="539" fill="#c8c800"/>
<use href="#cf" x="1315" y="539" fill="#c8c800"/>
<use href="#cf" x="1362" y="539" fill="#c8c800"/>
<path class="ce" d="M206.5 456.5L198.5 468.5L214.5 468.5Z" fill="none" stroke="#4169e1" stroke-width="1"/>
<path class="ce" d="M228.5 456.5L220.5 468.5L236.5 468.5Z" fill="none" stroke="#4169e1" stroke-width="1"/>
<path class="ce" d="M870.5 456.5L862.5 468.5L878.5 468.5Z" fill="none" stroke="#4169e1" stroke-width="1"/>
<path class="ce" d="M1106.5 456.5L1098.5 468.5L1114.5 468.5Z" fill="none" stroke="#4169e1" stroke-width="1"/>
<path class="ce" d="M206.5 402.5L198.5 414.5L214.5 414.5Z" fill="#ffc020" stroke="#ffc020" stroke-width="1"/>
<path class="ce" d="M200.0 371.5h13M206.5 365.0v13" fill="none" stroke="#008040" stroke-width="1"/>
<path class="ce" d="M206.5 340.5L198.5 328.5L214.5 328.5Z" fill="none" stroke="#c080ff" stroke-width="1"/>
<path class="ce" d="M206.5 359.5L198.5 347.5L214.5 347.5Z" fill="none" stroke="#306080" stroke-width="1"/>
<path class="ce" d="M1288 72.5H1345" stroke="#ff0000" stroke-width="1" fill="none"/>
<path class="ce" d="M1288 91.5H1345" stroke="#00c000" stroke-width="1" fill="none"/>
<path class="ce" d="M1288 110.5H1345" stroke="#0080ff" stroke-width="1" fill="none"/>
<rect class="ce" x="1310.5" y="123.5" width="12" height="12" fill="none" stroke="#c000ff" stroke-width="1"/>
<rect class="ce" x="1310.0" y="142.0" width="13" height="13" fill="#00eeee"/>
<use href="#co" x="1316" y="167" fill="#c04000"/>
<use href="#cf" x="1316" y="186" fill="#c8c800"/>
<path class="ce" d="M1316.5 197.5L1308.5 209.5L1324.5 209.5Z" fill="none" stroke="#4169e1" stroke-width="1"/>
<path class="ce" d="M1316.5 216.5L1308.5 228.5L1324.5 228.5Z" fill="#ffc020" stroke="#ffc020" stroke-width="1"/>
<path class="ce" d="M1310.0 243.5h13M1316.5 237.0v13" fill="none" stroke="#008040" stroke-width="1"/>
<path class="ce" d="M1316.5 270.5L1308.5 258.5L1324.5 258.5Z" fill="none" stroke="#c080ff" stroke-width="1"/>
<path class="ce" d="M1316.5 289.5L1308.5 277.5L1324.5 277.5Z" fill="none" stroke="#306080" stroke-width="1"/>
<rect class="ce" x="101.5" y="57.5" width="1265" height="482" fill="none" stroke="#000" stroke-width="1"/>
</svg></body></html>
